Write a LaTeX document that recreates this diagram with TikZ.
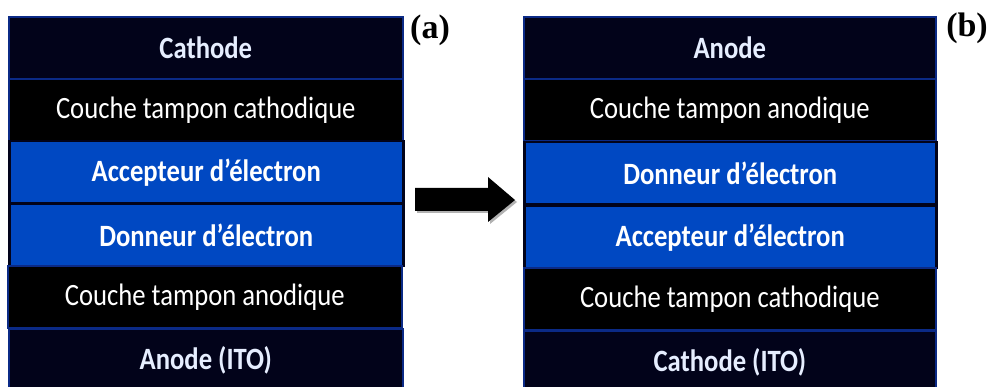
\documentclass[tikz,border=0pt]{standalone}
\usepackage{fontspec}
\setmainfont{Liberation Serif}
\newfontfamily\boxfont[FakeStretch=0.86]{Carlito}
\definecolor{navyrow}{HTML}{02031A}
\definecolor{blackrow}{HTML}{000000}
\definecolor{bluerow}{HTML}{0048C2}
\definecolor{edgeblue}{HTML}{0B2A86}
\definecolor{paletext}{HTML}{E6EEFF}
\tikzset{
  layer/.style={draw=edgeblue, line width=1.6pt, minimum height=62pt, inner sep=0pt, anchor=north west,
    font=\boxfont\fontsize{31}{34}\selectfont},
  navylayer/.style={layer, fill=navyrow, text=paletext, font=\boxfont\bfseries\fontsize{31}{34}\selectfont},
  blacklayer/.style={layer, fill=blackrow, text=white},
  bluelayer/.style={layer, fill=bluerow, text=white, draw=navyrow, line width=2.5pt, font=\boxfont\bfseries\fontsize{31}{34}\selectfont},
  leftstack/.style={minimum width=394pt},
  rightstack/.style={minimum width=412pt},
  tag/.style={font=\bfseries\fontsize{34}{36}\selectfont, inner sep=0pt}
}
\begin{document}
\begin{tikzpicture}[x=1pt,y=-1pt]
\clip (0,0) rectangle (988,387);
\fill[white] (0,0) rectangle (988,387);
% left stack (a)
\node[navylayer, leftstack]  (a1) at (8,16)  {Cathode};
\node[blacklayer, leftstack] (a2) at (8,78)  {Couche tampon cathodique};
\node[bluelayer, leftstack]  (a3) at (8,140) {Accepteur d’électron};
\node[bluelayer, leftstack]  (a4) at (8,203) {Donneur d’électron};
\node[blacklayer, leftstack] (a5) at (7,265) {Couche tampon anodique};
\node[navylayer, leftstack, minimum height=64pt]  (a6) at (8,328) {Anode (ITO)};
% right stack (b)
\node[navylayer, rightstack]  (b1) at (523,16)  {Anode};
\node[blacklayer, rightstack] (b2) at (523,78)  {Couche tampon anodique};
\node[bluelayer, rightstack]  (b3) at (523,141) {Donneur d’électron};
\node[bluelayer, rightstack]  (b4) at (523,205) {Accepteur d’électron};
\node[blacklayer, rightstack] (b5) at (523,267) {Couche tampon cathodique};
\node[navylayer, rightstack, minimum height=64pt]  (b6) at (523,330) {Cathode (ITO)};
% labels
\node[tag, anchor=north west] (la) at (410,15) {(a)};
\node[tag, anchor=north east] (lb) at (988,13) {(b)};
% arrow
\fill[black!60, opacity=0.5] (417,190) -- (490,190) -- (490,180) -- (517,202) -- (490,224) -- (490,213) -- (417,213) -- cycle;
\fill[black] (415,188) -- (488,188) -- (488,177) -- (515,200) -- (488,222) -- (488,211) -- (415,211) -- cycle;
\end{tikzpicture}
\end{document}
